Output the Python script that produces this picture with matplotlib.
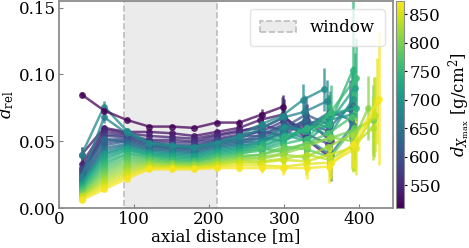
import numpy as np
import matplotlib
matplotlib.use("Agg")
import matplotlib.pyplot as plt
import matplotlib.cm as cm
from matplotlib.colors import Normalize
from matplotlib.patches import Patch

plt.rcParams["font.family"] = "DejaVu Serif"
plt.rcParams["mathtext.fontset"] = "dejavuserif"
plt.rcParams["font.size"] = 12

# shower depth of each curve [g/cm^2]
dxmax = [515, 530, 545, 558, 570, 583, 595, 608, 620, 632, 645, 657, 670, 683, 695,
         708, 720, 733, 745, 758, 770, 783, 795, 808, 820, 833, 845, 858, 868]

# distance bins [m]: same for first bins, tails differ per curve
dist_head = [30, 60, 90, 120, 150, 180, 210, 240]
dist_tail = [
    [270, 299],
    [268, 298, 328, 361],
    [270, 300, 330],
    [270, 300, 330, 362],
    [269, 299, 329, 360],
    [270, 300, 331, 359],
    [268, 297, 327, 358],
    [270, 299, 329, 361],
    [270, 300, 330, 359, 388],
    [269, 298, 328, 360, 390],
    [270, 299, 330, 361, 389],
    [268, 298, 329, 362, 391],
    [270, 300, 327, 357],
    [270, 297, 325, 353],
    [269, 300, 330, 360, 390],
    [270, 298, 329, 361, 392],
    [270, 300, 330, 360, 394],
    [269, 299, 328, 358, 396],
    [270, 300, 330, 360, 391],
    [270, 299, 331, 362, 395],
    [268, 298, 328, 359, 390],
    [270, 300, 330, 361, 393],
    [270, 299, 329, 360, 391, 418],
    [269, 300, 330, 362, 392, 412],
    [270, 298, 328, 359, 390, 420],
    [270, 300, 331, 361, 394, 418],
    [268, 299, 330, 360, 391, 421],
    [270, 300, 329, 362, 396, 424],
    [270, 299, 330, 360, 392, 426],
]

d_rel = [
    [.085, .073, .066, .061, .061, .060, .064, .064, .070, .076],
    [.040, .060, .057, .057, .056, .054, .057, .060, .066, .070, .052, .038],
    [.033, .059, .056, .054, .053, .052, .055, .058, .060, .068, .056],
    [.030, .057, .055, .051, .051, .050, .054, .057, .062, .058, .066, .050],
    [.028, .055, .054, .050, .049, .049, .052, .055, .057, .065, .060, .070],
    [.026, .054, .053, .049, .047, .047, .051, .054, .054, .062, .055, .048],
    [.029, .051, .052, .048, .046, .046, .050, .052, .058, .054, .064, .058],
    [.024, .049, .051, .047, .045, .045, .049, .051, .052, .060, .070, .062],
    [.022, .047, .050, .046, .045, .044, .048, .050, .055, .063, .058, .068, .074],
    [.025, .052, .049, .045, .044, .043, .047, .049, .050, .056, .066, .060, .078],
    [.021, .045, .048, .044, .043, .042, .046, .048, .053, .050, .061, .072, .066],
    [.020, .043, .047, .043, .042, .041, .045, .047, .048, .058, .052, .040, .062],
    [.023, .068, .056, .048, .046, .045, .048, .052, .060, .068, .072, .080],
    [.040, .076, .058, .049, .047, .046, .049, .054, .063, .069, .081, .089],
    [.019, .041, .046, .042, .041, .040, .044, .046, .050, .061, .058, .066, .070],
    [.018, .040, .045, .041, .040, .039, .043, .045, .046, .052, .060, .055, .082],
    [.017, .038, .044, .040, .039, .038, .042, .044, .049, .055, .050, .064, .090],
    [.016, .036, .043, .040, .038, .037, .041, .043, .044, .050, .058, .070, .075],
    [.015, .034, .041, .039, .037, .036, .040, .042, .047, .053, .060, .062, .103],
    [.014, .032, .040, .038, .036, .035, .039, .041, .043, .048, .052, .072, .097],
    [.013, .030, .038, .037, .035, .035, .038, .040, .045, .042, .048, .056, .068],
    [.012, .028, .036, .036, .034, .034, .037, .039, .040, .046, .044, .038, .060],
    [.011, .026, .034, .035, .034, .033, .036, .038, .040, .044, .048, .052, .058, .066],
    [.010, .024, .032, .034, .033, .032, .035, .037, .038, .041, .046, .053, .050, .075],
    [.009, .022, .030, .033, .032, .032, .034, .036, .037, .040, .038, .046, .055, .068],
    [.009, .020, .028, .032, .031, .031, .033, .035, .035, .037, .040, .036, .048, .060],
    [.008, .018, .026, .031, .031, .030, .032, .034, .034, .036, .035, .040, .045, .070],
    [.007, .016, .024, .030, .030, .030, .031, .032, .032, .031, .033, .034, .045, .080],
    [.006, .014, .022, .029, .029, .029, .030, .030, .030, .030, .030, .031, .048, .082],
]

d_err = [
    [.002, .002, .001, .001, .001, .001, .001, .003, .004, .009],
    [.006, .002, .001, .001, .001, .001, .001, .003, .006, .009, .012, .014],
    [.004, .002, .001, .001, .001, .001, .001, .003, .006, .014, .012],
    [.004, .002, .001, .001, .001, .001, .002, .003, .006, .009, .012, .016],
    [.003, .002, .001, .001, .001, .001, .002, .003, .005, .010, .013, .015],
    [.003, .002, .001, .001, .001, .001, .001, .003, .006, .009, .014, .016],
    [.004, .002, .001, .001, .001, .001, .002, .003, .006, .009, .012, .017],
    [.003, .002, .001, .001, .001, .001, .002, .003, .005, .010, .014, .018],
    [.003, .002, .001, .001, .001, .001, .002, .003, .006, .009, .012, .016, .022],
    [.004, .003, .001, .001, .001, .001, .002, .003, .005, .010, .011, .018, .024],
    [.003, .002, .001, .001, .001, .001, .001, .003, .006, .009, .012, .016, .020],
    [.003, .002, .001, .001, .001, .001, .002, .003, .005, .008, .011, .020, .022],
    [.004, .004, .002, .001, .001, .001, .002, .003, .006, .010, .013, .016],
    [.006, .004, .002, .001, .001, .001, .002, .004, .007, .014, .012, .016],
    [.003, .002, .001, .001, .001, .001, .002, .003, .005, .009, .012, .016, .020],
    [.003, .002, .001, .001, .001, .001, .001, .002, .006, .008, .013, .015, .024],
    [.003, .002, .001, .001, .001, .001, .002, .003, .005, .009, .010, .018, .026],
    [.003, .002, .001, .001, .001, .001, .002, .003, .006, .008, .014, .015, .024],
    [.002, .002, .001, .001, .001, .001, .002, .003, .005, .009, .012, .016, .055],
    [.002, .002, .001, .001, .001, .001, .001, .003, .006, .008, .011, .020, .030],
    [.002, .002, .001, .001, .001, .001, .002, .002, .005, .009, .011, .016, .026],
    [.002, .002, .001, .001, .001, .001, .002, .003, .005, .008, .012, .015, .024],
    [.002, .001, .001, .001, .001, .001, .001, .002, .005, .008, .010, .015, .020, .026],
    [.002, .001, .001, .001, .001, .001, .001, .002, .005, .007, .010, .016, .022, .024],
    [.002, .001, .001, .001, .001, .001, .001, .002, .004, .007, .009, .014, .026, .030],
    [.002, .001, .001, .001, .001, .001, .001, .002, .004, .006, .009, .013, .020, .024],
    [.002, .001, .001, .001, .001, .001, .001, .002, .004, .006, .008, .013, .018, .028],
    [.001, .001, .001, .001, .001, .001, .001, .002, .004, .005, .008, .012, .020, .032],
    [.001, .001, .001, .001, .001, .001, .001, .002, .004, .005, .008, .012, .018, .050],
]

window = (87, 210)

fig = plt.figure(figsize=(4.69, 2.48), dpi=100)
ax = fig.add_axes([0.126, 0.161, 0.712, 0.835])
cax = fig.add_axes([0.8445, 0.161, 0.016, 0.835])

norm = Normalize(vmin=510, vmax=873)
cmap = cm.viridis

ax.axvspan(window[0], window[1], facecolor="#ebebeb", edgecolor="#bdbdbd",
           linestyle="--", linewidth=1.2, zorder=0)

order = list(range(1, len(dxmax))) + [0]
for i in order:
    x = dist_head + dist_tail[i]
    y = d_rel[i]
    x = x[:len(y)]
    c = cmap(norm(dxmax[i]))
    ax.errorbar(x, y, yerr=d_err[i], color=c, marker="o", markersize=4,
                linewidth=1.8, elinewidth=1.8, capsize=0, alpha=0.75)

ax.set_xlim(0, 445)
ax.set_ylim(0, 0.155)
ax.set_xticks([0, 100, 200, 300, 400])
ax.set_yticks([0.0, 0.05, 0.10, 0.15])
ax.set_yticklabels(["0.00", "0.05", "0.10", "0.15"])
ax.tick_params(direction="in", length=3, color="0.5", pad=2)
for s in ax.spines.values():
    s.set_color("0.55")
    s.set_linewidth(1.3)
ax.set_xlabel("axial distance [m]", labelpad=0)
ax.set_ylabel(r"$d_{\rm rel}$", labelpad=2)

leg_patch = Patch(facecolor="#ebebeb", edgecolor="#bdbdbd", linestyle="--",
                  linewidth=1.2, label="window")
ax.legend(handles=[leg_patch], loc="upper right", framealpha=0.8,
          edgecolor="#dddddd", borderpad=0.6, handlelength=2.2)

sm = cm.ScalarMappable(norm=norm, cmap=cmap)
cb = fig.colorbar(sm, cax=cax)
cb.set_ticks([550, 600, 650, 700, 750, 800, 850])
cb.outline.set_edgecolor("0.55")
cb.ax.tick_params(length=2, pad=2)
cb.set_label(r"$d_{X_{\rm max}}$ [g/cm$^2$]", labelpad=4)

fig.savefig("out.png", dpi=100)
